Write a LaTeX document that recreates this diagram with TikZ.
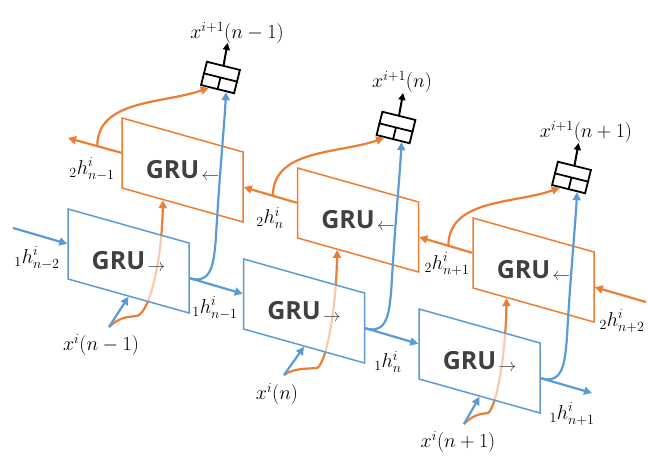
\RequirePackage{fix-cm}
\documentclass[tikz,border=0pt]{standalone}
\usepackage{fontspec}
\newfontfamily\grufont{Open Sans}
\usetikzlibrary{arrows.meta,calc}
\definecolor{cblue}{HTML}{5B9BD5}
\definecolor{corange}{HTML}{ED7D31}
\definecolor{ctext}{HTML}{404040}
\begin{document}
\begin{tikzpicture}[x=1pt,y=-1pt,
  grubox/.style={minimum width=121pt, minimum height=70pt, inner sep=0pt, line width=1.5pt, yslant=-0.281},
  fwdbox/.style={grubox, draw=cblue, fill=white, fill opacity=0.6, draw opacity=1},
  bwdbox/.style={grubox, draw=corange},
  grutext/.style={inner sep=0pt, font=\grufont\bfseries\fontsize{25}{25}\selectfont, text=ctext},
  obox/.style={draw=black, line width=1.8pt, minimum width=34pt, minimum height=24pt, inner sep=0pt, rotate=-14},
  lab/.style={font=\fontsize{20}{20}\selectfont, inner sep=0pt},
  tip/.style={-{Triangle[length=8pt,width=8pt]}},
  barr/.style={draw=cblue, line width=2.2pt, tip},
  oarr/.style={draw=corange, line width=2.2pt, tip},
  karr/.style={draw=black, line width=2pt, -{Triangle[length=7pt,width=7pt]}}
]
\useasboundingbox (0,0) rectangle (648,462);

% named free ends
\coordinate (hin) at (13,228);
\coordinate (hout) at (592,393);
\coordinate (oin) at (646,302);
\coordinate (oout) at (68,138);
\coordinate (xs1) at (109,327);
\coordinate (xs2) at (284,375);
\coordinate (xs3) at (464,424);
\coordinate (m1) at (137,316);
\coordinate (m2) at (317,368);
\coordinate (m3) at (488,413);

% orange boxes (backward)
\node[bwdbox] (o1) at (182.5,170) {};
\node[bwdbox] (o2) at (358,220) {};
\node[bwdbox] (o3) at (533.5,270) {};

\coordinate (oi1) at ($(o1.south west)!0.34!(o1.south east)$);
\coordinate (oi2) at ($(o2.south west)!0.33!(o2.south east)$);
\coordinate (oi3) at ($(o3.south west)!0.28!(o3.south east)$);

% orange inputs (drawn under the blue boxes)
\draw[oarr] (xs1) .. controls +(10,-9) and +(-12,1) .. (m1) .. controls +(13,-4) and +(-1,60) .. (oi1);
\draw[oarr] (xs2) .. controls +(10,-7) and +(-12,1) .. (m2) .. controls +(9,-4) and +(-1,60) .. (oi2);
\draw[oarr] (xs3) .. controls +(8,-8) and +(-10,1) .. (m3) .. controls +(8,-5) and +(-1,60) .. (oi3);

% blue boxes (forward)
\node[fwdbox] (b1) at (128.5,261) {};
\node[fwdbox] (b2) at (304,311) {};
\node[fwdbox] (b3) at (479.5,361) {};

% box texts
\foreach \i in {1,2,3}{
  \node[grutext] (gb\i) at (b\i.center) {GRU\kern2pt{\fontsize{18}{18}\selectfont\raisebox{-2pt}{$\rightarrow$}}};
  \node[grutext] (go\i) at (o\i.center) {GRU\kern2pt{\fontsize{18}{18}\selectfont\raisebox{-2pt}{$\leftarrow$}}};
}

% output boxes
\node[obox] (ob1) at (220.5,77.5) {};
\node[obox] (ob2) at (396,127.5) {};
\node[obox] (ob3) at (571.5,177.5) {};
\foreach \i in {1,2,3}{
  \draw[line width=1.8pt] (ob\i.west) -- (ob\i.east) (ob\i.center) -- (ob\i.south);
  \coordinate (t\i) at ($(ob\i.north)+(4,-22)$);
  \draw[karr] (ob\i.north) -- (t\i);
}

% forward hidden states
\draw[barr] (hin) -- (b1.west);
\draw[barr] (b1.east) -- (b2.west);
\draw[barr] (b2.east) -- (b3.west);
\draw[barr] (b3.east) -- (hout);

% backward hidden states
\draw[oarr] (oin) -- (o3.east);
\draw[oarr] (o3.west) -- (o2.east);
\draw[oarr] (o2.west) -- (o1.east);
\draw[oarr] (o1.west) -- (oout);

% blue inputs
\draw[barr] (xs1) -- (b1.south);
\draw[barr] (xs2) -- (b2.south);
\draw[barr] (xs3) -- (b3.south);

% blue to outputs
\draw[barr] (b1.east) .. controls +(23,7) and +(-2,20) .. ++(26,-38) .. controls +(4,-70) and +(-2,37) .. ($(ob1.south)!0.5!(ob1.south east)$);
\draw[barr] (b2.east) .. controls +(23,7) and +(-2,20) .. ++(26,-38) .. controls +(4,-70) and +(-2,37) .. ($(ob2.south)!0.5!(ob2.south east)$);
\draw[barr] (b3.east) .. controls +(23,7) and +(-2,20) .. ++(26,-38) .. controls +(4,-70) and +(-2,37) .. ($(ob3.south)!0.5!(ob3.south east)$);

% orange to outputs
\draw[oarr] ($(o1.west)!0.45!(oout)$) .. controls +(0,-47) and +(-45,16) .. ($(ob1.south west)!0.25!(ob1.south east)$);
\draw[oarr] ($(o2.west)!0.45!(o1.east)$) .. controls +(0,-47) and +(-45,16) .. ($(ob2.south west)!0.25!(ob2.south east)$);
\draw[oarr] ($(o3.west)!0.45!(o2.east)$) .. controls +(0,-47) and +(-45,16) .. ($(ob3.south west)!0.25!(ob3.south east)$);

% labels
\node[lab] (l1) at (37,258) {${}_1h^{i}_{n-2}$};
\node[lab] (l2) at (215,308) {${}_1h^{i}_{n-1}$};
\node[lab] (l3) at (388,362) {${}_1h^{i}_{n}$};
\node[lab] (l4) at (572,414) {${}_1h^{i}_{n+1}$};
\node[lab] (l5) at (92,169) {${}_2h^{i}_{n-1}$};
\node[lab] (l6) at (270,218) {${}_2h^{i}_{n}$};
\node[lab] (l7) at (447,264) {${}_2h^{i}_{n+1}$};
\node[lab] (l8) at (622,321) {${}_2h^{i}_{n+2}$};
\node[lab] (x1) at (101,345) {$x^{i}(n-1)$};
\node[lab] (x2) at (277,394) {$x^{i}(n)$};
\node[lab] (x3) at (458,442) {$x^{i}(n+1)$};
\node[lab] (y1) at (237,33) {$x^{i+1}(n-1)$};
\node[lab] (y2) at (402,82) {$x^{i+1}(n)$};
\node[lab] (y3) at (586,132) {$x^{i+1}(n+1)$};
\end{tikzpicture}
\end{document}
